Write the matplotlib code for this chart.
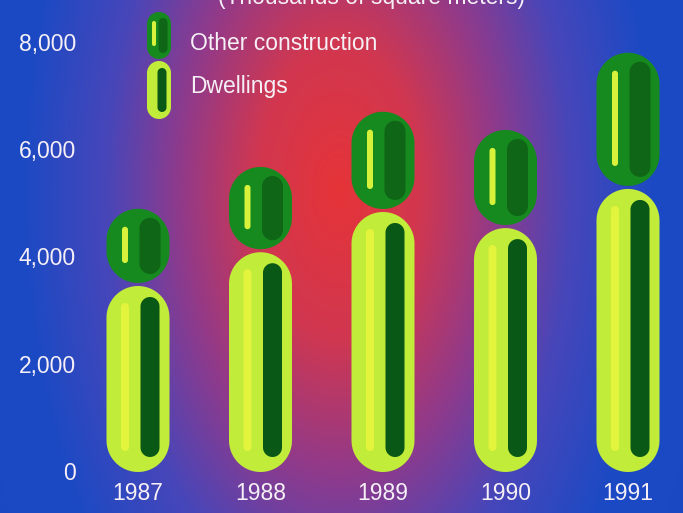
import numpy as np
import matplotlib
matplotlib.use('Agg')
import matplotlib.pyplot as plt
from matplotlib.patches import Polygon

# ---- data ----
years = ['1987', '1988', '1989', '1990', '1991']
dwellings = [3450, 4080, 4830, 4530, 5260]
other = [1440, 1590, 1870, 1830, 2540]
yticks = [0, 2000, 4000, 6000, 8000]
ytick_labels = ['0', '2,000', '4,000', '6,000', '8,000']
legend_labels = ['Other construction', 'Dwellings']
unit_label = '(Thousands of square meters)'

W, H, DPI = 683, 513, 100
FONT = 'Liberation Sans'
TXT = '#f6f0f6'

fig = plt.figure(figsize=(W / DPI, H / DPI), dpi=DPI)

# ---- background radial gradient ----
bg = fig.add_axes([0, 0, 1, 1])
bg.set_axis_off()
yy, xx = np.mgrid[0:H, 0:W].astype(float)
t = np.sqrt(((xx - 338) / 185.0) ** 2 + ((yy - 190) / 330.0) ** 2)
stops_t = [0.0, 0.45, 0.85, 1.25, 1.7, 3.0]
stops_c = np.array([[230, 52, 56], [208, 55, 80], [145, 58, 138],
                    [72, 70, 185], [28, 74, 196], [24, 70, 195]]) / 255.0
img = np.zeros((H, W, 3))
for k in range(3):
    img[..., k] = np.interp(t, stops_t, stops_c[:, k])
bg.imshow(img, extent=[0, W, H, 0], aspect='auto', interpolation='bilinear')
bg.set_xlim(0, W)
bg.set_ylim(H, 0)

# ---- main axes (full figure, transparent) ----
ax = fig.add_axes([0, 0, 1, 1])
ax.patch.set_alpha(0)
px_per_x = 122.5
px_per_y = 429.0 / 8000.0
x0_px, y0_px = 138.0, 42.0  # pixel of x=0 and y=0 from left / bottom
ax.set_xlim(-x0_px / px_per_x, (W - x0_px) / px_per_x)
ax.set_ylim(-y0_px / px_per_y, (H - y0_px) / px_per_y)
for s in ax.spines.values():
    s.set_visible(False)

ux = 1.0 / px_per_x   # data x per pixel
uy = 1.0 / px_per_y   # data y per pixel


def capsule(xc, y_bot, y_top, w_px, color, z):
    """Stadium shape with true semicircular ends (circular in pixels)."""
    r_px = w_px / 2.0
    h_px = (y_top - y_bot) / uy
    r_y = min(r_px, h_px / 2.0)
    a_top = np.linspace(0, np.pi, 40)
    a_bot = np.linspace(np.pi, 2 * np.pi, 40)
    top_c = y_top - r_y * uy
    bot_c = y_bot + r_y * uy
    xs_top = xc + r_px * np.cos(a_top) * ux
    ys_top = top_c + r_y * np.sin(a_top) * uy
    xs_bot = xc + r_px * np.cos(a_bot) * ux
    ys_bot = bot_c + r_y * np.sin(a_bot) * uy
    pts = np.column_stack([np.concatenate([xs_top, xs_bot]),
                           np.concatenate([ys_top, ys_bot])])
    ax.add_patch(Polygon(pts, closed=True, fc=color, ec='none', zorder=z,
                         clip_on=False))


LIME = '#c2ec3a'
LIME_HI = '#e2f43c'
DARK = '#0a5816'
GREEN = '#178a1f'
GREEN_DK = '#0f6617'
GREEN_HI = '#d8f23c'
BW = 63
GAP = 3 * uy

xs = np.arange(len(years))
for i, x in enumerate(xs):
    d = dwellings[i]
    tot = d + other[i]
    # dwellings capsule
    capsule(x, 0 - 1 * uy, d, BW, LIME, 3)
    capsule(x - 13 * ux, 0 + 20 * uy, d - 17 * uy, 8, LIME_HI, 4)
    capsule(x + 12 * ux, 0 + 14 * uy, d - 11 * uy, 19, DARK, 4)
    # other construction capsule
    capsule(x, d + GAP, tot, BW, GREEN, 3)
    capsule(x + 12 * ux, d + GAP + 9 * uy, tot - 9 * uy, 21, GREEN_DK, 4)
    capsule(x - 13 * ux, d + GAP + 20 * uy, tot - 18 * uy, 6, GREEN_HI, 5)

# ---- ticks ----
ax.set_xticks(xs)
ax.set_xticklabels(years)
ax.set_yticks(yticks)
ax.set_yticklabels(ytick_labels)
ax.tick_params(axis='y', length=0, pad=-76 * 72 / DPI, labelsize=16.5,
               labelcolor=TXT)
ax.tick_params(axis='x', length=0, pad=-31 * 72 / DPI, labelsize=16.5,
               labelcolor=TXT)
for lab in ax.get_xticklabels() + ax.get_yticklabels():
    lab.set_fontfamily(FONT)
    lab.set_zorder(6)


# ---- legend (drawn manually) ----
def fig_to_data(px, py_top):
    return (px - x0_px) * ux, (H - py_top - y0_px) * uy


lx, _ = fig_to_data(159, 0)
_, o_bot = fig_to_data(0, 59)
_, o_top = fig_to_data(0, 12)
_, d_bot = fig_to_data(0, 119)
_, d_top = fig_to_data(0, 61)
capsule(lx, o_bot, o_top, 24, GREEN, 3)
capsule(lx - 5 * ux, o_bot + 13 * uy, o_top - 9 * uy, 4, GREEN_HI, 5)
capsule(lx + 4 * ux, o_bot + 6 * uy, o_top - 6 * uy, 9, GREEN_DK, 4)
capsule(lx, d_bot, d_top, 24, LIME, 3)
capsule(lx + 3 * ux, d_bot + 7 * uy, d_top - 7 * uy, 9, DARK, 4)

fig.text(190 / W, 1 - 44 / H, legend_labels[0], fontsize=16.5, color=TXT,
         family=FONT, va='center', ha='left')
fig.text(190 / W, 1 - 87 / H, legend_labels[1], fontsize=16.5, color=TXT,
         family=FONT, va='center', ha='left')
fig.text(372 / W, 1 - 4 / H, unit_label, fontsize=16.5, color=TXT,
         family=FONT, va='baseline', ha='center')

fig.savefig('out.png', dpi=DPI)
